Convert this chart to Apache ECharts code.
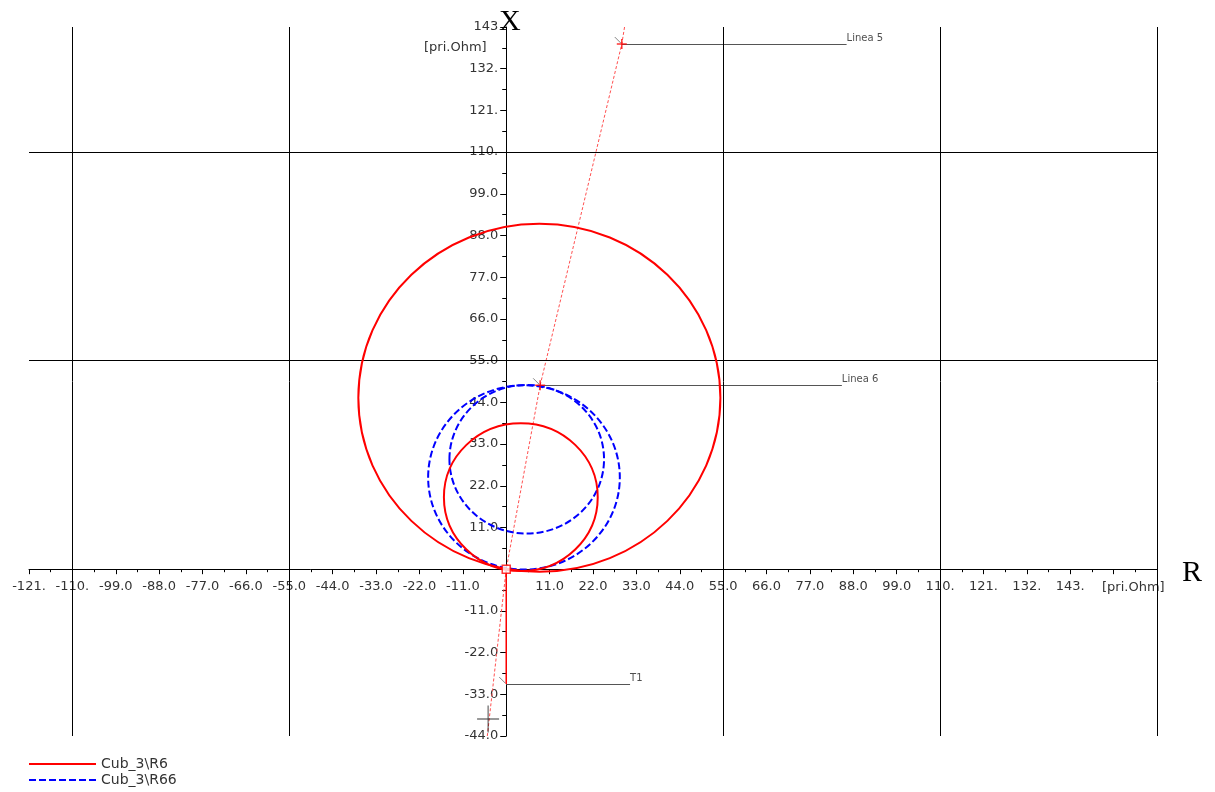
<!DOCTYPE html>
<html>
<head>
<meta charset="utf-8">
<title>R-X diagram</title>
<script src="https://cdn.jsdelivr.net/npm/echarts@6/dist/echarts.min.js"></script>
<style>
  html, body { margin: 0; padding: 0; background: #fff; }
  #myChart { width: 1215px; height: 792px; }
</style>
</head>
<body>
<div id="myChart"></div>
<script>
// axis ranges [pri.Ohm]
const rMin = -121, rMax = 165
const xMin = -44, xMax = 143
const tickStep = 11
// main grid lines
const gridR = [-110, -55, 55, 110, 165]
const gridX = [55, 110]

// Cub_3\R6 characteristics: circle centre (R, X) and radius
const r6CenterR = [8.4, 3.7]
const r6CenterX = [45.2, 19.0]
const r6Radius = [45.9, 19.5]
// Cub_3\R66 characteristics
const r66CenterR = [4.5, 5.2]
const r66CenterX = [24.2, 29.0]
const r66Radius = [24.3, 19.6]

// impedance path through the network
const pathUp = [[30.0, 143], [29.3, 138.5], [8.6, 48.5], [0, 0]]
const pathDown = [[0, 0], [-4.8, -44]]
const trafoPath = [[0, 0], [0, -30.3]]

// nodes with labels
const nodeNames = ['Linea 5', 'Linea 6', 'T1']
const nodeR = [29.3, 8.6, 0]
const nodeX = [138.5, 48.5, -30.3]
const labelR = [86.3, 85.1, 31.4]

function fmtTick(v) {
    if (Math.abs(v) < 1e-6) return ''
    if (Math.abs(v) >= 100) return Math.round(v) + '.'
    return v.toFixed(1)
}

const gridBox = { left: 29, right: 58, top: 27, bottom: 56 }
const plotW = 1215 - gridBox.left - gridBox.right
const plotH = 792 - gridBox.top - gridBox.bottom
// move the axes onto the zero lines
const xAxisOffset = -plotH * (0 - xMin) / (xMax - xMin)
const yAxisOffset = -plotW * (0 - rMin) / (rMax - rMin)

let myChart = echarts.init(document.getElementById('myChart'))

const font = 'DejaVu Sans'
const cross = 'path://M0,5L10,5M5,0L5,10'
const slash = 'path://M0,0L10,10'

// circle in R-X units, drawn through the axis scales
function circleSeries(name, cR, cX, rad, color, dash) {
    return {
        name: name, type: 'custom', z: dash ? 4 : 5, silent: true,
        data: cR.map((r, i) => [r, cX[i], rad[i]]),
        encode: { x: 0, y: 1 },
        renderItem: (params, api) => {
            const c = api.coord([api.value(0), api.value(1)])
            const s = api.size([api.value(2), api.value(2)])
            return {
                type: 'ellipse',
                shape: { cx: c[0], cy: c[1], rx: s[0], ry: s[1] },
                style: { fill: 'none', stroke: color, lineWidth: 2, lineDash: dash || null }
            }
        }
    }
}

let option = {
    animation: false,
    backgroundColor: '#fff',
    grid: Object.assign({ containLabel: false, outerBoundsMode: 'none' }, gridBox),
    legend: {
        data: ['Cub_3\\R6', 'Cub_3\\R66'],
        orient: 'vertical',
        left: 28, top: 757,
        padding: 0,
        itemGap: 2,
        itemWidth: 67,
        itemHeight: 14,
        selectedMode: false,
        itemStyle: { opacity: 0 },
        textStyle: { fontFamily: font, fontSize: 14, color: '#333', lineHeight: 14 }
    },
    xAxis: {
        type: 'value',
        position: 'bottom',
        offset: xAxisOffset,
        min: rMin, max: rMax, interval: tickStep,
        axisLine: { show: true, onZero: false, lineStyle: { color: '#000', width: 1 } },
        axisTick: { show: true, length: 5, lineStyle: { color: '#000' } },
        minorTick: { show: true, splitNumber: 2, length: 3, lineStyle: { color: '#000' } },
        splitLine: { show: false },
        minorSplitLine: { show: false },
        axisLabel: {
            margin: 11, fontFamily: font, fontSize: 13, color: '#333',
            formatter: v => (v > 145 ? '' : fmtTick(v))
        }
    },
    yAxis: {
        type: 'value',
        position: 'left',
        offset: yAxisOffset,
        min: xMin, max: xMax, interval: tickStep,
        axisLine: { show: true, onZero: false, lineStyle: { color: '#000', width: 1 } },
        axisTick: { show: true, length: 6, lineStyle: { color: '#000' } },
        minorTick: { show: true, splitNumber: 2, length: 4, lineStyle: { color: '#000' } },
        splitLine: { show: false },
        minorSplitLine: { show: false },
        axisLabel: {
            margin: 8, fontFamily: font, fontSize: 13, color: '#333',
            formatter: v => (v > 140 ? '143' : fmtTick(v))
        }
    },
    graphic: [
        { type: 'text', left: 499, top: 7, style: { text: 'X', font: '30px "Liberation Serif"', fill: '#000' } },
        { type: 'text', left: 1182, top: 558, style: { text: 'R', font: '30px "Liberation Serif"', fill: '#000' } },
        { type: 'text', left: 1102, top: 581, style: { text: '[pri.Ohm]', font: '13px "DejaVu Sans"', fill: '#333' } },
        { type: 'text', left: 424, top: 41, style: { text: '[pri.Ohm]', font: '13px "DejaVu Sans"', fill: '#333' } }
    ],
    series: [
        // legend entries (line style samples)
        {
            name: 'Cub_3\\R6', type: 'line', data: [], symbol: 'none', color: '#ff0000',
            lineStyle: { color: '#ff0000', width: 2 }
        },
        {
            name: 'Cub_3\\R66', type: 'line', data: [], symbol: 'none', color: '#0000ff',
            lineStyle: { color: '#0000ff', width: 2, type: [7, 3] }
        },
        {
            // main grid lines
            type: 'line', data: [], z: 1, silent: true,
            markLine: {
                silent: true, symbol: 'none', label: { show: false },
                lineStyle: { color: '#000', width: 1, type: 'solid' },
                data: gridR.map(r => ({ xAxis: r })).concat(gridX.map(x => ({ yAxis: x })))
            }
        },
        {
            // leader lines to node labels
            type: 'lines', coordinateSystem: 'cartesian2d', z: 2, silent: true,
            lineStyle: { color: '#555', width: 1, opacity: 1 },
            data: nodeNames.map((n, i) => ({ coords: [[nodeR[i], nodeX[i]], [labelR[i], nodeX[i]]] }))
        },
        {
            type: 'scatter', z: 2, silent: true, symbolSize: 0,
            itemStyle: { color: 'transparent' },
            label: {
                show: true, position: 'top', align: 'left', distance: 1,
                fontFamily: font, fontSize: 10, color: '#222',
                formatter: p => nodeNames[p.dataIndex]
            },
            data: labelR.map((r, i) => [r, nodeX[i]])
        },
        {
            type: 'line', z: 3, silent: true, symbol: 'none',
            lineStyle: { color: '#ff5050', width: 1, type: [3, 2] },
            data: pathUp
        },
        {
            type: 'line', z: 3, silent: true, symbol: 'none',
            lineStyle: { color: '#ff5050', width: 1, type: [3, 2] },
            data: pathDown
        },
        {
            type: 'line', z: 3, silent: true, symbol: 'none',
            lineStyle: { color: '#ff0000', width: 1.5 },
            data: trafoPath
        },
        circleSeries('Cub_3\\R66', r66CenterR, r66CenterX, r66Radius, '#0000ff', [7, 3]),
        circleSeries('Cub_3\\R6', r6CenterR, r6CenterX, r6Radius, '#ff0000', null),
        {
            // node crosses
            type: 'scatter', z: 6, silent: true, symbol: cross, symbolSize: 10,
            itemStyle: { color: 'none', borderColor: '#ff0000', borderWidth: 1.5 },
            data: [[nodeR[0], nodeX[0]], [nodeR[1], nodeX[1]]]
        },
        {
            type: 'scatter', z: 6, silent: true, symbol: slash, symbolSize: 6,
            symbolOffset: [-4, -4],
            itemStyle: { color: 'none', borderColor: '#666', borderWidth: 1 },
            data: nodeR.map((r, i) => [r, nodeX[i]])
        },
        {
            // end of path marks
            type: 'scatter', z: 6, silent: true, symbol: cross, symbolSize: [22, 27],
            itemStyle: { color: 'none', borderColor: '#000', borderWidth: 1 },
            data: [[-4.6, -39.5]]
        },
        {
            type: 'scatter', z: 6, silent: true, symbol: 'path://M0,0L10,0', symbolSize: [9, 1],
            itemStyle: { color: 'none', borderColor: '#ff0000', borderWidth: 1.5 },
            data: [[-5.3, -44]]
        },
        {
            // relay location
            type: 'scatter', z: 7, silent: true, symbol: 'rect', symbolSize: 8,
            itemStyle: { color: '#fff', borderColor: '#ff0000', borderWidth: 1.5 },
            data: [[0, 0]]
        }
    ]
}
myChart.setOption(option)

window.addEventListener('resize', () => {
    myChart.resize()
})
</script>
</body>
</html>
